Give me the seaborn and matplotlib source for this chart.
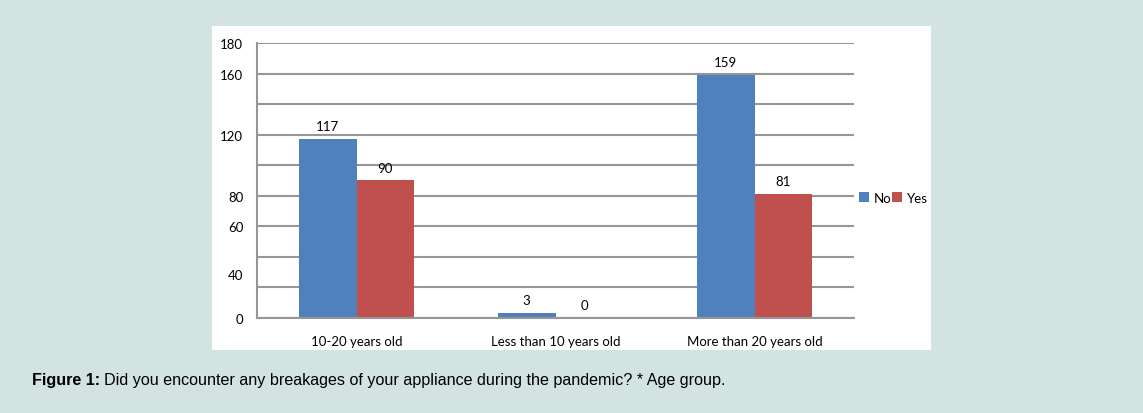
import pandas as pd
import numpy as np
import matplotlib.pyplot as plt
import matplotlib.transforms as mtransforms
from matplotlib.patches import Rectangle
import seaborn as sns

# Data
age_groups = ["10-20 years old", "Less than 10 years old", "More than 20 years old"]
no_counts = [117, 3, 159]
yes_counts = [90, 0, 81]
answers = ["No", "Yes"]
colors = ["#4F81BD", "#C0504D"]
ytick_values = [0, 20, 40, 60, 80, 100, 120, 140, 160, 180]
ytick_labels = ["0", "", "40", "60", "80", "", "120", "", "160", "180"]

df = pd.DataFrame({
    "Age group": age_groups * 2,
    "Answer": ["No"] * 3 + ["Yes"] * 3,
    "Count": no_counts + yes_counts,
})

sns.set_style("white")
plt.rcParams["font.family"] = ["Lato", "DejaVu Sans"]
plt.rcParams["text.color"] = "black"
plt.rcParams["xtick.labelcolor"] = "black"
plt.rcParams["ytick.labelcolor"] = "black"

fig = plt.figure(figsize=(11.43, 4.14), dpi=100)
fig.patch.set_facecolor("#D3E3E1")

# white chart panel behind the axes
panel = Rectangle((0.1855, 0.152), 0.629, 0.783, transform=fig.transFigure,
                  facecolor="white", edgecolor="none", zorder=-1)
fig.add_artist(panel)

ax = fig.add_axes([0.2249, 0.2295, 0.5223, 0.6643])
ax.set_zorder(1)
ax.set_facecolor("none")

sns.barplot(data=df, x="Age group", y="Count", hue="Answer", hue_order=answers,
            palette=colors, width=0.58, saturation=1, linewidth=0, ax=ax)

for cont in ax.containers:
    ax.bar_label(cont, padding=5, fontsize=9.5, color="black")

ax.set_ylim(0, 180)
ax.set_xlim(-0.5, 2.5)
ax.set_yticks(ytick_values)
ax.set_yticklabels(ytick_labels)
ax.yaxis.grid(True, color="#969696", linewidth=1.5)
ax.set_axisbelow(True)
ax.tick_params(axis="y", length=5, width=1.5, color="#969696", labelsize=9.5, pad=5)

# the "40" label sits lower in the original
for lab in ax.get_yticklabels():
    if lab.get_text() == "40":
        lab.set_transform(lab.get_transform() +
                          mtransforms.ScaledTranslation(0, -0.17, fig.dpi_scale_trans))

ax.set_xticks([-0.5, 0.5, 1.5, 2.5], minor=True)
ax.tick_params(axis="x", which="major", length=0, labelsize=9.5, pad=12)
ax.tick_params(axis="x", which="minor", length=5, width=1.5, color="#969696")
ax.set_xlabel("")
ax.set_ylabel("")

for side in ["top", "right"]:
    ax.spines[side].set_visible(False)
for side in ["left", "bottom"]:
    ax.spines[side].set_color("#969696")
    ax.spines[side].set_linewidth(1.5)

ax.legend(loc="center left", bbox_to_anchor=(1.0, 0.437), ncol=2, frameon=False,
          handlelength=0.75, handleheight=0.75, handletextpad=0.35, columnspacing=0.05,
          fontsize=9.5, borderaxespad=0.0)

cap1 = fig.text(0.028, 0.08, "Figure 1:", fontsize=11.6, fontweight="bold",
                family=["Liberation Sans", "DejaVu Sans"], va="center")
ax.annotate("Did you encounter any breakages of your appliance during the pandemic? * Age group.",
            xy=(1, 0.5), xycoords=cap1, xytext=(3, 0), textcoords="offset points",
            fontsize=11.6, family=["Liberation Sans", "DejaVu Sans"], va="center",
            annotation_clip=False)

fig.savefig("out.png", dpi=100, facecolor=fig.get_facecolor())
